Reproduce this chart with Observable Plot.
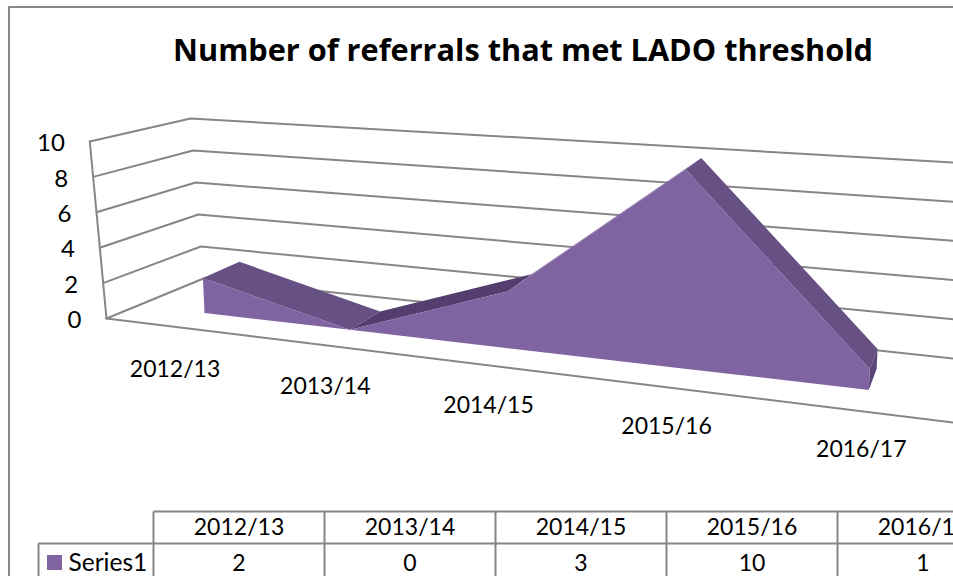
<!DOCTYPE html>
<html>
<head>
<meta charset="utf-8">
<script src="https://cdn.jsdelivr.net/npm/d3@7"></script>
<script src="https://cdn.jsdelivr.net/npm/@observablehq/plot@0.6"></script>
<style>
html,body{margin:0;padding:0;background:#fff;overflow:hidden}
svg{display:block}
</style>
</head>
<body>
<div id="chart"></div>
<script>
const title = "Number of referrals that met LADO threshold";
const seriesName = "Series1";
const categories = ["2012/13", "2013/14", "2014/15", "2015/16", "2016/17"];
const values = [2, 0, 3, 10, 1];
const valueTicks = [0, 2, 4, 6, 8, 10];

const W = 953, H = 576;
const FONT = "Lato, Carlito, Calibri, sans-serif";
const GRID = "#868686";
const FACE = "#8064a2", TOP = "#675083", TOP_DARK = "#543e6f", SIDE = "#5a4678";

// Perspective used by the 3-D area: category + value + depth -> picture position
const persp = c => 1 - 0.0397 * c;
function project(c, v, d) {
  const w = persp(c);
  const h = 17.5 * v / w;
  const bx = 204.5 + 139.7 * c / w;
  const by = 313 + (bx - 204.5) * 0.1159;
  const x = bx + (-0.045 + 0.024 * c) * h;
  const y = by - h;
  const t = 0.043 * d;
  return [x + t * (1050 - x), y + t * (-100 - y)];
}
const vertex = (c, v, d) => { const [x, y] = project(c, v, d); return {x, y}; };
const band = (c, v0, d0, v1, d1) => {
  const a = project(c, v0, d0), b = project(c, v1, d1);
  return {x1: a[0], y1: a[1], x2: b[0], y2: b[1]};
};

// Walls and floor of the 3-D frame
const backLeft = v => ({x: 203 - 1.3 * v, y: 278 - 16 * v});
const backRight = v => ({x: 953, y: 358 - 19.6 * v});
const frontLeft = v => ({x: 106 - 1.67 * v, y: 318 - 17.7 * v});
const gridRows = valueTicks.flatMap(v => [
  {v, ...frontLeft(v)}, {v, ...backLeft(v)}, {v, ...backRight(v)}
]);
const frameEdges = [
  [frontLeft(0), frontLeft(10)],
  [frontLeft(0), {x: 953, y: 422}]
].flatMap((e, i) => e.map(p => ({...p, i})));

// Data table under the chart
const tableLeft = 153, colWidth = 171, legendLeft = 38;
const rowTop = 511, rowMid = 543, rowBottom = 577;
const col = i => tableLeft + colWidth * i;
const tableSegs = [
  {x1: tableLeft, y1: rowTop, x2: W, y2: rowTop},
  {x1: legendLeft, y1: rowMid, x2: W, y2: rowMid},
  {x1: legendLeft, y1: rowMid, x2: legendLeft, y2: rowBottom},
  ...d3.range(categories.length + 1).map(i => ({x1: col(i), y1: rowTop, x2: col(i), y2: rowBottom}))
];

const strip = (i, fill) => Plot.area(
  [i, i + 1].map(c => band(c, values[c], 0, values[c], 1)),
  {x1: "x1", y1: "y1", x2: "x2", y2: "y2", fill}
);

const chart = Plot.plot({
  width: W, height: H,
  marginTop: 0, marginRight: 0, marginBottom: 0, marginLeft: 0,
  x: {domain: [0, W], range: [0, W], axis: null},
  y: {domain: [0, H], range: [0, H], axis: null},
  style: {background: "#fff", fontFamily: FONT},
  marks: [
    // outer chart frame
    Plot.line([{x: 8.5, y: H}, {x: 8.5, y: 6.5}, {x: W, y: 6.5}], {x: "x", y: "y", stroke: GRID, strokeWidth: 2}),
    // gridlines and frame
    Plot.line(gridRows, {x: "x", y: "y", z: "v", stroke: GRID, strokeWidth: 2}),
    Plot.line(frameEdges, {x: "x", y: "y", z: "i", stroke: GRID, strokeWidth: 2}),
    // value axis labels
    Plot.text(valueTicks, {
      x: v => frontLeft(v).x, y: v => frontLeft(v).y,
      text: v => String(v), textAnchor: "end", dx: -25, dy: 2,
      fontSize: 24, fill: "#000"
    }),
    // 3-D area: hidden and top facets first, then right side, then front face
    strip(2, FACE),
    strip(0, TOP),
    strip(1, TOP_DARK),
    strip(3, TOP),
    Plot.area([band(4, values[4], 0, values[4], 1), band(4, 0, 0, 0, 1)], {x1: "x1", y1: "y1", x2: "x2", y2: "y2", fill: SIDE}),
    Plot.area(values.map((v, c) => band(c, 0, 0, v, 0)), {x1: "x1", y1: "y1", x2: "x2", y2: "y2", fill: FACE}),
    // category labels
    Plot.text(categories, {
      x: (d, i) => vertex(i, 0, -0.77).x, y: (d, i) => vertex(i, 0, -0.77).y,
      text: d => d, dx: -2, dy: 42.5, fontSize: 23, fill: "#000"
    }),
    // title
    Plot.text([title], {x: () => 522.5, y: () => 51, text: d => d, fontSize: 30.7, fontWeight: "bold", fontFamily: "'Open Sans', sans-serif", fill: "#000"}),
    // data table
    Plot.link(tableSegs, {x1: "x1", y1: "y1", x2: "x2", y2: "y2", stroke: GRID, strokeWidth: 2}),
    Plot.text(categories, {x: (d, i) => col(i) + colWidth / 2, y: () => 527, text: d => d, fontSize: 23, fill: "#000"}),
    Plot.text(values, {x: (d, i) => col(i) + colWidth / 2, y: () => 563, text: d => String(d), fontSize: 23, fill: "#000"}),
    Plot.rect([seriesName], {x1: () => 47, x2: () => 62, y1: () => 555, y2: () => 570, fill: FACE}),
    Plot.text([seriesName], {x: () => 68, y: () => 563, text: d => d, textAnchor: "start", fontSize: 24.5, fill: "#000"})
  ]
});
document.getElementById("chart").appendChild(chart);
</script>
</body>
</html>
